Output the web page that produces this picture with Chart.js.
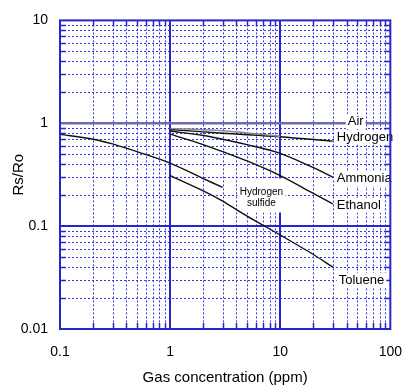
<!DOCTYPE html>
<html>
<head>
<meta charset="utf-8">
<script src="https://cdn.jsdelivr.net/npm/chart.js@4.4.0/dist/chart.umd.min.js"></script>
<style>
  html, body { margin: 0; padding: 0; background: #fff; }
  #wrap { width: 417px; height: 392px; }
</style>
</head>
<body>
<div id="wrap"><canvas id="sensChart" width="417" height="392"></canvas></div>
<script>
// Rs/Ro against gas concentration (ppm)
const airConc = [0.1, 100];
const airRatio = [1, 1];
const hydrogenConc = [1, 3, 10, 30];
const hydrogenRatio = [0.87, 0.80, 0.74, 0.67];
const hydrogenUpperConc = [1, 3, 10];
const hydrogenUpperRatio = [0.89, 0.845, 0.745];
const ammoniaConc = [1, 2, 3, 5, 10, 20, 30];
const ammoniaRatio = [0.84, 0.76, 0.70, 0.62, 0.51, 0.37, 0.30];
const ethanolConc = [1, 2, 3, 5, 10, 20, 30];
const ethanolRatio = [0.785, 0.62, 0.53, 0.43, 0.31, 0.208, 0.165];
const h2sConc = [0.1, 0.2, 0.3, 0.5, 1, 2, 3];
const h2sRatio = [0.78, 0.70, 0.63, 0.53, 0.41, 0.29, 0.238];
const tolueneConc = [1, 2, 3, 5, 10, 20, 30];
const tolueneRatio = [0.31, 0.22, 0.175, 0.125, 0.082, 0.053, 0.040];

const xTickValues = [0.1, 1, 10, 100];
const xTickLabels = ['0.1', '1', '10', '100'];
const yTickValues = [0.01, 0.1, 1, 10];
const yTickLabels = ['0.01', '0.1', '1', '10'];

const FONT = "'Liberation Sans', Arial, sans-serif";
const BLUE = '#2626cc';

function pts(xs, ys) {
  return xs.map((x, i) => ({ x: x, y: ys[i] }));
}

function curve(label, xs, ys, color, width) {
  return {
    label: label,
    data: pts(xs, ys),
    showLine: true,
    borderColor: color,
    borderWidth: width,
    pointRadius: 0,
    tension: 0.3,
    fill: false
  };
}

// minor values inside each decade
function minors(vals) {
  const out = [];
  for (let i = 0; i < vals.length - 1; i++) {
    for (let m = 2; m <= 9; m++) out.push(vals[i] * m);
  }
  return out;
}

// where the "Hydrogen sulfide" note sits
function h2sNote(x, y) {
  return { cx: x.getPixelForValue(6.75), cy: y.getPixelForValue(0.19) };
}

const gridPlugin = {
  id: 'logGrid',
  beforeDatasetsDraw(chart) {
    const { ctx, chartArea: a, scales: { x, y } } = chart;
    const xm = minors(xTickValues), ym = minors(yTickValues);
    ctx.save();
    // dotted minor grid
    ctx.strokeStyle = '#3535e6';
    ctx.lineWidth = 1;
    ctx.setLineDash([2, 2]);
    ctx.beginPath();
    xm.forEach(v => {
      const px = Math.round(x.getPixelForValue(v)) + 0.5;
      ctx.moveTo(px, a.top); ctx.lineTo(px, a.bottom);
    });
    ym.forEach(v => {
      const py = Math.round(y.getPixelForValue(v)) + 0.5;
      ctx.moveTo(a.left, py); ctx.lineTo(a.right, py);
    });
    ctx.stroke();
    // solid major lines
    ctx.setLineDash([]);
    ctx.strokeStyle = BLUE;
    ctx.lineWidth = 2;
    ctx.beginPath();
    xTickValues.slice(1, -1).forEach(v => {
      const px = Math.round(x.getPixelForValue(v));
      ctx.moveTo(px, a.top); ctx.lineTo(px, a.bottom);
    });
    yTickValues.slice(1, -1).forEach(v => {
      const py = Math.round(y.getPixelForValue(v));
      ctx.moveTo(a.left, py); ctx.lineTo(a.right, py);
    });
    ctx.stroke();
    // inward tick marks
    ctx.lineWidth = 1.5;
    ctx.beginPath();
    xm.forEach(v => {
      const px = Math.round(x.getPixelForValue(v)) + 0.5;
      ctx.moveTo(px, a.bottom); ctx.lineTo(px, a.bottom - 6);
      ctx.moveTo(px, a.top); ctx.lineTo(px, a.top + 6);
    });
    ym.forEach(v => {
      const py = Math.round(y.getPixelForValue(v)) + 0.5;
      ctx.moveTo(a.left, py); ctx.lineTo(a.left + 6, py);
      ctx.moveTo(a.right, py); ctx.lineTo(a.right - 6, py);
    });
    ctx.stroke();
    // white patch behind the hydrogen sulfide note (curves stay on top)
    const n = h2sNote(x, y);
    ctx.fillStyle = '#fff';
    ctx.fillRect(n.cx - 24, n.cy - 19, 48, 34);
    ctx.restore();
  },
  afterDatasetsDraw(chart) {
    const { ctx, chartArea: a, scales: { x, y } } = chart;
    ctx.save();
    ctx.textBaseline = 'alphabetic';
    const tag = (text, px, py, size) => {
      ctx.font = size + 'px ' + FONT;
      const w = ctx.measureText(text).width;
      ctx.fillStyle = '#fff';
      ctx.fillRect(px - 2, py - size * 0.85, w + 4, size * 1.15);
      ctx.fillStyle = '#000';
      ctx.fillText(text, px, py);
    };
    const endX = x.getPixelForValue(30);
    tag('Air', endX + 15, y.getPixelForValue(1) + 2, 13);
    tag('Hydrogen', endX + 4, y.getPixelForValue(0.67), 13);
    tag('Ammonia', endX + 4, y.getPixelForValue(0.30) + 5, 13);
    tag('Ethanol', endX + 4, y.getPixelForValue(0.165) + 5, 13);
    tag('Toluene', endX + 6, y.getPixelForValue(0.040) + 17, 13);
    // hydrogen sulfide note text
    const n = h2sNote(x, y);
    ctx.font = '10px ' + FONT;
    ctx.fillStyle = '#000';
    ctx.textAlign = 'center';
    ctx.fillText('Hydrogen', n.cx, n.cy - 2);
    ctx.fillText('sulfide', n.cx, n.cy + 8.5);
    // plot frame
    ctx.strokeStyle = BLUE;
    ctx.lineWidth = 2;
    ctx.strokeRect(a.left, a.top, a.right - a.left, a.bottom - a.top);
    ctx.restore();
  }
};

const ctx = document.getElementById('sensChart').getContext('2d');
new Chart(ctx, {
  type: 'scatter',
  data: {
    datasets: [
      curve('Air', airConc, airRatio, '#6b6bb0', 2.5),
      curve('Hydrogen (upper)', hydrogenUpperConc, hydrogenUpperRatio, '#8a8a8a', 1.5),
      curve('Hydrogen', hydrogenConc, hydrogenRatio, '#111', 1.4),
      curve('Ammonia', ammoniaConc, ammoniaRatio, '#111', 1.4),
      curve('Ethanol', ethanolConc, ethanolRatio, '#111', 1.4),
      curve('Hydrogen sulfide', h2sConc, h2sRatio, '#111', 1.4),
      curve('Toluene', tolueneConc, tolueneRatio, '#111', 1.4)
    ]
  },
  options: {
    responsive: false,
    animation: false,
    layout: { padding: { top: 15, right: 26, bottom: 0, left: 0 } },
    plugins: { legend: { display: false }, tooltip: { enabled: false } },
    scales: {
      x: {
        type: 'logarithmic',
        min: 0.1,
        max: 100,
        afterBuildTicks: s => { s.ticks = xTickValues.map(v => ({ value: v })); },
        afterFit: s => { s.height = 63; },
        grid: { display: false, drawTicks: false },
        border: { display: false },
        ticks: {
          autoSkip: false,
          maxRotation: 0,
          padding: 15,
          color: '#000',
          font: { family: FONT, size: 14 },
          callback: v => xTickLabels[xTickValues.indexOf(v)]
        },
        title: {
          display: true,
          text: 'Gas concentration (ppm)',
          color: '#000',
          font: { family: FONT, size: 15 },
          padding: { top: 0, bottom: 5 }
        }
      },
      y: {
        type: 'logarithmic',
        min: 0.01,
        max: 10,
        afterBuildTicks: s => { s.ticks = yTickValues.map(v => ({ value: v })); },
        afterFit: s => { s.width = 60; },
        grid: { display: false, drawTicks: false },
        border: { display: false },
        ticks: {
          autoSkip: false,
          padding: 12,
          color: '#000',
          font: { family: FONT, size: 14 },
          callback: v => yTickLabels[yTickValues.indexOf(v)]
        },
        title: {
          display: true,
          text: 'Rs/Ro',
          color: '#000',
          font: { family: FONT, size: 15 },
          padding: { top: 10, bottom: 0 }
        }
      }
    }
  },
  plugins: [gridPlugin]
});
</script>
</body>
</html>
